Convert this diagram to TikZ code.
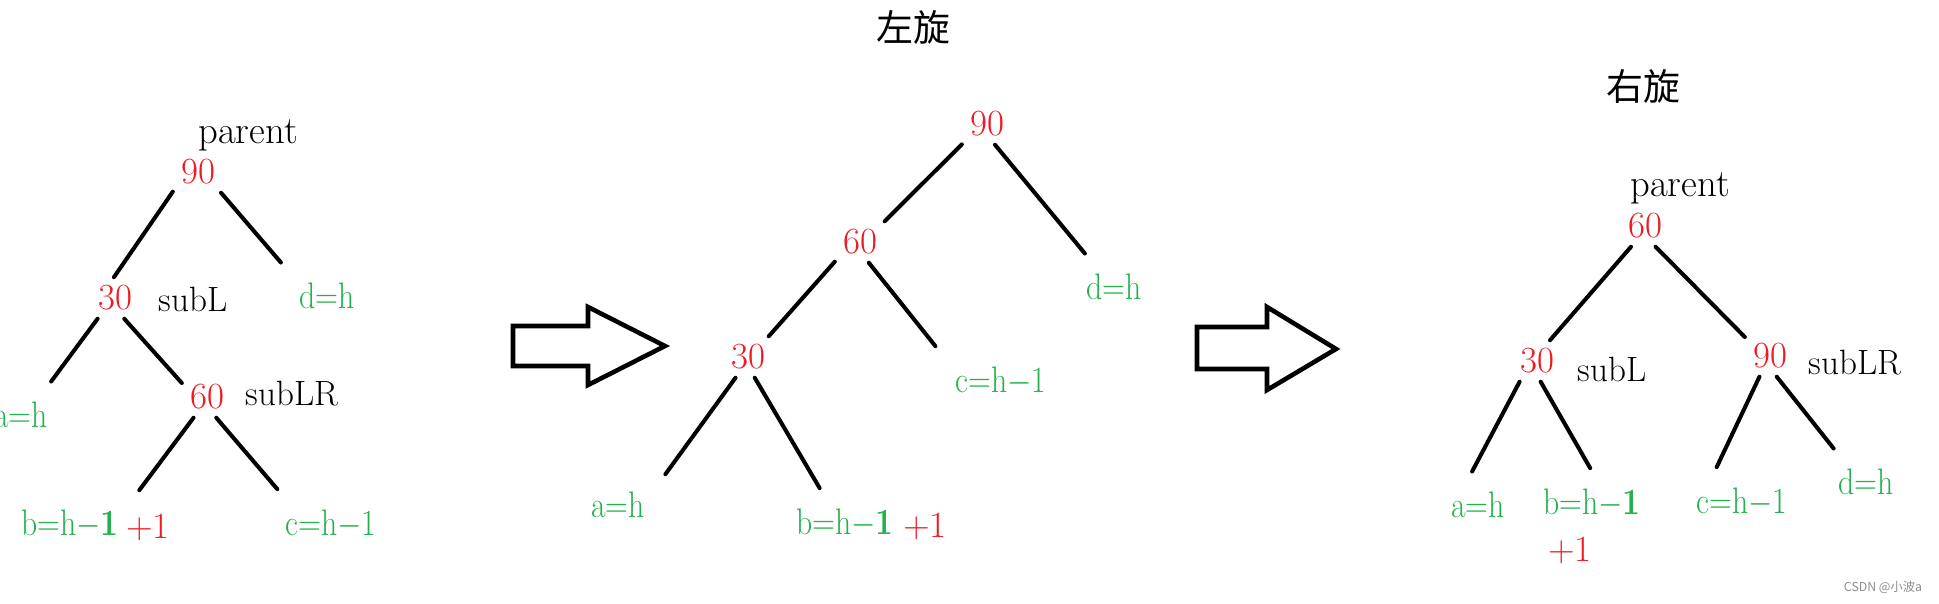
\documentclass[tikz,border=0pt]{standalone}
\usepackage{fontspec}
\newfontfamily\cjk{Noto Sans CJK SC}
\usetikzlibrary{positioning}
\definecolor{nred}{HTML}{ED1C24}
\definecolor{ngreen}{HTML}{22B14C}
\newcommand{\slim}[1]{\scalebox{0.86}[1]{#1}}

\begin{document}
\begin{tikzpicture}[x=0.02cm, y=-0.02cm,
    num/.style={text=nred, font=\fontsize{21}{25}\selectfont, inner sep=4.5pt},
    leaf/.style={text=ngreen, font=\fontsize{21}{25}\selectfont, inner sep=11.5pt},
    lbl/.style={font=\fontsize{20}{24}\selectfont, inner sep=2pt},
    headline/.style={font=\cjk\fontsize{21}{25}\selectfont},
    link/.style={line width=2.3pt, line cap=round},
    blockarr/.style={line width=2.6pt, line join=miter, fill=white}]
  \useasboundingbox (0,0) rectangle (1939,604);
  \clip (0,0) rectangle (1939,604);

  \node[lbl, font=\fontsize{22}{26}\selectfont] (lparent) at (248,135) {parent};
  \node[num] (l90) at (198,172) {90};
  \node[num] (l30) at (115,298) {30};
  \node[lbl] (lsubl) at (193,299) {subL};
  \node[leaf] (ld) at (327,296) {\slim{d=h}};
  \node[leaf] (la) at (21,415) {\slim{a=h}};
  \node[num] (l60) at (207,397) {60};
  \node[lbl] (lsublr) at (292,394) {subLR};
  \node[leaf] (lb) at (70,524) {\slim{b=h$-$\textbf{1}}};
  \node[num] (lplus) at (148,527) {+1};
  \node[leaf] (lc) at (331,524) {\slim{c=h$-$1}};
  \draw[link] (l90.-142) -- (l30.93);
  \draw[link] (l90.-42) -- (ld.144);
  \draw[link] (l30.-130) -- (la.48);
  \draw[link] (l30.-66) -- (l60.151);
  \draw[link] (l60.-123) -- (lb.26);
  \draw[link] (l60.-66) -- (lc.147);

  \draw[blockarr] (513,326) -- (588,326) -- (588,307) -- (665,346) -- (588,385) -- (588,366) -- (513,366) -- cycle;

  \node[headline] (mtitle) at (913,27) {左旋};
  \node[num] (m90) at (987,124) {90};
  \node[num] (m60) at (860,242) {60};
  \node[num] (m30) at (748,357) {30};
  \node[leaf] (md) at (1114,287) {\slim{d=h}};
  \node[leaf] (mc) at (1001,381) {\slim{c=h$-$1}};
  \node[leaf] (ma) at (618,505) {\slim{a=h}};
  \node[leaf] (mb) at (845,523) {\slim{b=h$-$\textbf{1}}};
  \node[num] (mplus) at (925,526) {+1};
  \draw[link] (m90.-141) -- (m60.40);
  \draw[link] (m90.-69) -- (md.131);
  \draw[link] (m60.-142) -- (m30.45);
  \draw[link] (m60.-67) -- (mc.152);
  \draw[link] (m30.-121) -- (ma.33);
  \draw[link] (m30.-72) -- (mb.126);

  \draw[blockarr] (1197,327) -- (1267,327) -- (1267,307) -- (1336,349) -- (1267,390) -- (1267,369) -- (1197,369) -- cycle;

  \node[headline] (rtitle) at (1643,86) {右旋};
  \node[lbl, font=\fontsize{22}{26}\selectfont] (rparent) at (1680,188) {parent};
  \node[num] (r60) at (1645,226) {60};
  \node[num] (r30) at (1537,361) {30};
  \node[lbl] (rsubl) at (1612,369) {subL};
  \node[num] (r90) at (1770,356) {90};
  \node[lbl] (rsublr) at (1855,363) {subLR};
  \node[leaf] (ra) at (1478,505) {\slim{a=h}};
  \node[leaf] (rb) at (1592,503) {\slim{b=h$-$\textbf{1}}};
  \node[num] (rplus) at (1570,550) {+1};
  \node[leaf] (rc) at (1742,502) {\slim{c=h$-$1}};
  \node[leaf] (rd) at (1866,482) {\slim{d=h}};
  \draw[link] (r60.-124) -- (r30.58);
  \draw[link] (r60.-63) -- (r90.143);
  \draw[link] (r30.-130) -- (ra.100);
  \draw[link] (r30.-80) -- (rb.93);
  \draw[link] (r90.-117) -- (rc.126);
  \draw[link] (r90.-72) -- (rd.134);

  \node[font=\cjk\fontsize{7}{8}\selectfont, text=black!45] (wmark) at (1883,587) {CSDN @小波a};
\end{tikzpicture}
\end{document}
